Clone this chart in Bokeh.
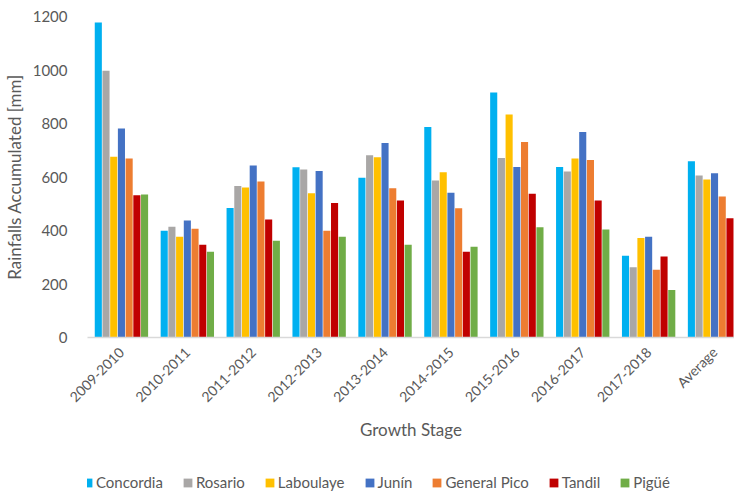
from bokeh.plotting import figure
from bokeh.layouts import column
from bokeh.models import ColumnDataSource, FixedTicker, Legend, LegendItem, Range1d
from bokeh.transform import dodge
from bokeh.embed import file_html
from bokeh.resources import INLINE

stages = ["2009-2010", "2010-2011", "2011-2012", "2012-2013", "2013-2014",
          "2014-2015", "2015-2016", "2016-2017", "2017-2018", "Average"]
stations = ["Concordia", "Rosario", "Laboulaye", "Junín", "General Pico", "Tandil", "Pigüé"]
concordia = [1178, 399, 484, 636, 597, 787, 916, 637, 306, 659]
rosario = [997, 414, 566, 628, 681, 587, 671, 621, 263, 606]
laboulaye = [676, 377, 561, 539, 674, 618, 834, 669, 372, 591]
junin = [781, 437, 643, 622, 727, 541, 637, 768, 377, 614]
general_pico = [669, 407, 583, 399, 558, 483, 731, 664, 253, 527]
tandil = [532, 347, 441, 503, 512, 321, 537, 512, 303, 446]
pigue = [535, 321, 362, 377, 347, 339, 412, 404, 178, 364]
y_ticks = [0, 200, 400, 600, 800, 1000, 1200]
colors = ["#00b0f0", "#a9a7a6", "#ffc000", "#4472c4", "#ed7d31", "#c00000", "#70ad47"]

series = [concordia, rosario, laboulaye, junin, general_pico, tandil, pigue]
data = {"x": list(range(len(stages)))}
keys = ["s%d" % i for i in range(len(series))]
for k, s in zip(keys, series):
    data[k] = s
source = ColumnDataSource(data)

FONT = "Lato"
TXT = "#595959"

p = figure(width=734, height=462, output_backend="svg", toolbar_location=None,
           x_range=Range1d(-0.515, 9.303), y_range=Range1d(0, 1200),
           min_border_left=86, min_border_right=0, min_border_top=16, min_border_bottom=125)
p.outline_line_color = None
p.xgrid.grid_line_color = None
p.ygrid.grid_line_color = None

bw = 0.117
for j, (k, c) in enumerate(zip(keys, colors)):
    p.vbar(x=dodge("x", (j - 3) * bw, range=p.x_range), top=k, width=bw * 0.92,
           source=source, fill_color=c, line_color=None)

p.xaxis.ticker = FixedTicker(ticks=list(range(len(stages))))
p.xaxis.major_label_overrides = {i: s for i, s in enumerate(stages)}
p.xaxis.major_label_orientation = 0.785398
p.xaxis.major_tick_line_color = None
p.xaxis.minor_tick_line_color = None
p.xaxis.axis_line_color = "#d9d9d9"
p.xaxis.axis_line_width = 1.5
p.xaxis.major_label_text_font = FONT
p.xaxis.major_label_text_font_size = "14px"
p.xaxis.major_label_text_color = TXT
p.xaxis.major_label_standoff = 6
p.xaxis.axis_label = "Growth Stage"
p.xaxis.axis_label_text_font = FONT
p.xaxis.axis_label_text_font_size = "17px"
p.xaxis.axis_label_text_font_style = "normal"
p.xaxis.axis_label_text_color = TXT
p.xaxis.axis_label_standoff = 5

p.yaxis.ticker = FixedTicker(ticks=y_ticks)
p.yaxis.axis_line_color = None
p.yaxis.major_tick_line_color = None
p.yaxis.minor_tick_line_color = None
p.yaxis.major_label_text_font = FONT
p.yaxis.major_label_text_font_size = "15px"
p.yaxis.major_label_text_color = TXT
p.yaxis.major_label_standoff = 14
p.yaxis.axis_label = "Rainfalls Accumulated [mm]"
p.yaxis.axis_label_text_font = FONT
p.yaxis.axis_label_text_font_size = "17px"
p.yaxis.axis_label_text_font_style = "normal"
p.yaxis.axis_label_text_color = TXT
p.yaxis.axis_label_standoff = 5

# legend strip below the chart (same series, hidden glyphs only feed the legend)
lg = figure(width=734, height=29, output_backend="svg", toolbar_location=None,
            x_range=p.x_range, y_range=Range1d(0, 1200),
            x_axis_type=None, y_axis_type=None, min_border=0)
lg.outline_line_color = None
lg.xgrid.grid_line_color = None
lg.ygrid.grid_line_color = None
items = []
for j, (k, name, c) in enumerate(zip(keys, stations, colors)):
    r = lg.vbar(x=dodge("x", (j - 3) * bw, range=lg.x_range), top=k, width=bw * 0.92,
                source=source, fill_color=c, line_color=None, visible=False)
    items.append(LegendItem(label=name, renderers=[r]))
legend = Legend(items=items, orientation="horizontal", location=(-5, 0),
                label_text_font=FONT, label_text_font_size="15px", label_text_color=TXT,
                glyph_width=11, glyph_height=11, label_standoff=3, spacing=19,
                padding=0, margin=0, border_line_color=None, background_fill_alpha=0)
lg.add_layout(legend, "center")

layout = column(p, lg, spacing=0)
open("out.html", "w").write(file_html(layout, INLINE))
